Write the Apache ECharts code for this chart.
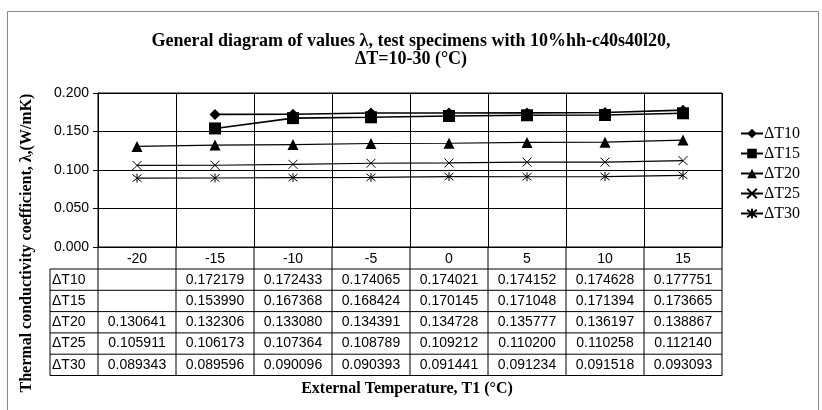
<!DOCTYPE html>
<html><head><meta charset="utf-8">
<script src="https://cdn.jsdelivr.net/npm/echarts@6/dist/echarts.min.js"></script>
<style>html,body{margin:0;padding:0;background:#fff}#c{width:822px;height:410px}</style>
</head><body><div id="c"></div>
<script>
// ---- data ----
const categories = ['-20', '-15', '-10', '-5', '0', '5', '10', '15'];
const seriesNames = ['ΔT10', 'ΔT15', 'ΔT20', 'ΔT25', 'ΔT30'];
const dT10 = [null, 0.172179, 0.172433, 0.174065, 0.174021, 0.174152, 0.174628, 0.177751];
const dT15 = [null, 0.153990, 0.167368, 0.168424, 0.170145, 0.171048, 0.171394, 0.173665];
const dT20 = [0.130641, 0.132306, 0.133080, 0.134391, 0.134728, 0.135777, 0.136197, 0.138867];
const dT25 = [0.105911, 0.106173, 0.107364, 0.108789, 0.109212, 0.110200, 0.110258, 0.112140];
const dT30 = [0.089343, 0.089596, 0.090096, 0.090393, 0.091441, 0.091234, 0.091518, 0.093093];
const yMin = 0, yMax = 0.2, yStep = 0.05;
const titleText = 'General diagram of values λ, test specimens with 10%hh-c40s40l20,\nΔT=10-30 (°C)';
const yTitle = 'Thermal conductivity coefficient, λ,(W/mK)';
const xTitle = 'External Temperature, T1 (°C)';

// ---- styles ----
const SERIF = '"Liberation Serif", "Times New Roman", serif';
const SANS = '"Liberation Sans", Arial, sans-serif';
const symX = 'path://M0,0L10,10M10,0L0,10';
const symAst = 'path://M5,0L5,10M1,1L9,9M9,1L1,9';
const allData = [dT10, dT15, dT20, dT25, dT30];
const symbols = ['diamond', 'rect', 'triangle', symX, symAst];
const symSizes = [11, 12, 11, 9, 9];
const lineWidths = [1.6, 1.6, 1.2, 1.2, 1.2];

const chart = echarts.init(document.getElementById('c'), null, {renderer: 'canvas'});

const option = {
  animation: false,
  backgroundColor: '#fff',
  title: {
    text: titleText, left: 'center', top: 27,
    textStyle: {fontFamily: SERIF, fontWeight: 'bold', fontSize: 18, lineHeight: 18, color: '#000'}
  },
  legend: {
    orient: 'vertical', left: 735, top: 120, itemWidth: 22, itemHeight: 12, itemGap: 3,
    data: seriesNames,
    textStyle: {fontFamily: SERIF, fontSize: 16, lineHeight: 17, color: '#000', padding: [0, 0, 0, -4]}
  },
  grid: {left: 98, right: 100, top: 93, bottom: 163, show: true, borderColor: '#000', borderWidth: 1},
  xAxis: {
    type: 'category', data: categories, boundaryGap: true,
    axisLine: {lineStyle: {color: '#000', width: 1}},
    axisTick: {show: false},
    splitLine: {show: true, lineStyle: {color: '#000', width: 1}},
    axisLabel: {color: '#000', fontFamily: SANS, fontSize: 14, margin: 5, interval: 0}
  },
  yAxis: {
    type: 'value', min: yMin, max: yMax, interval: yStep,
    axisLine: {show: true, lineStyle: {color: '#000'}},
    axisTick: {show: true, length: 5, lineStyle: {color: '#000'}},
    splitLine: {show: true, lineStyle: {color: '#000', width: 1}},
    axisLabel: {color: '#000', fontFamily: SANS, fontSize: 14, margin: 9, formatter: v => v.toFixed(3)}
  },
  series: seriesNames.map((n, i) => ({
    name: n, type: 'line', data: allData[i],
    symbol: symbols[i], symbolSize: symSizes[i], showAllSymbol: true,
    lineStyle: {color: '#000', width: lineWidths[i]},
    itemStyle: {color: '#000', borderColor: '#000', borderWidth: i >= 3 ? 1 : 0},
    connectNulls: false
  }))
};
chart.setOption(option);

// ---- data table and texts under the plot ----
const xs = categories.map(c => chart.convertToPixel({xAxisIndex: 0}, c));
const cw = xs[1] - xs[0];
const y0 = chart.convertToPixel({yAxisIndex: 0}, 0);
const leftX = xs[0] - cw / 2, rightX = xs[xs.length - 1] + cw / 2;
const bandH = 22, rowH = 21.3;
const tTop = y0 + bandH;
const tBottom = tTop + seriesNames.length * rowH;
const tLeft = 50;
const g = [];
const L = (x1, y1, x2, y2) => g.push({type: 'line', silent: true,
  shape: {x1, y1, x2, y2}, style: {stroke: '#000', lineWidth: 1}});
for (let r = 0; r <= seriesNames.length; r++) L(tLeft, tTop + r * rowH, rightX, tTop + r * rowH);
for (let k = 0; k <= categories.length; k++) L(leftX + k * cw, y0, leftX + k * cw, tBottom);
L(tLeft, tTop, tLeft, tBottom);
seriesNames.forEach((n, r) => {
  const cy = tTop + r * rowH + rowH / 2;
  g.push({type: 'text', silent: true, style: {text: n, x: tLeft + 2, y: cy,
    textVerticalAlign: 'middle', font: '14px ' + SANS, fill: '#000'}});
  allData[r].forEach((v, k) => {
    if (v == null) return;
    g.push({type: 'text', silent: true, style: {text: v.toFixed(6), x: xs[k], y: cy,
      textAlign: 'center', textVerticalAlign: 'middle', font: '14px ' + SANS, fill: '#000'}});
  });
});
g.push({type: 'text', silent: true, style: {text: xTitle, x: (leftX + rightX) / 2 - 3, y: 389,
  textAlign: 'center', textVerticalAlign: 'middle', font: 'bold 16px ' + SERIF, fill: '#000'}});
g.push({type: 'text', silent: true, rotation: Math.PI / 2, x: 27, y: 243,
  style: {text: yTitle, x: 0, y: 0, textAlign: 'center', textVerticalAlign: 'middle',
    font: 'bold 16px ' + SERIF, fill: '#000'}});
g.push({type: 'rect', silent: true, shape: {x: 7.5, y: 11.5, width: 811, height: 430},
  style: {fill: null, stroke: '#888', lineWidth: 1}, z: -1});
chart.setOption({graphic: {elements: g}});
</script></body></html>
